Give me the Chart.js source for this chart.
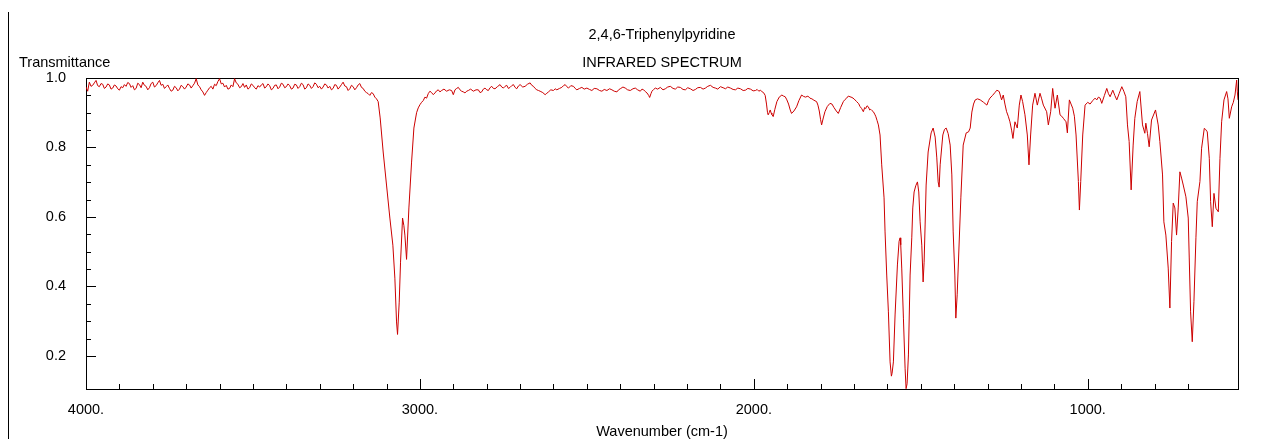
<!DOCTYPE html>
<html>
<head>
<meta charset="utf-8">
<title>2,4,6-Triphenylpyridine IR</title>
<script src="https://cdn.jsdelivr.net/npm/chart.js@4.4.1/dist/chart.umd.min.js"></script>
<style>
  body { margin: 0; background: #fff; }
  #wrap { position: relative; width: 1266px; height: 439px; }
  #edge { position: absolute; left: 8px; top: 12px; width: 1px; height: 427px; background: #000; }
</style>
</head>
<body>
<div id="wrap">
  <canvas id="ir" width="1266" height="439"></canvas>
  <div id="edge"></div>
</div>
<script>
// Labels
const chartTitle = '2,4,6-Triphenylpyridine';
const chartSubtitle = 'INFRARED SPECTRUM';
const yAxisLabel = 'Transmittance';
const xAxisLabel = 'Wavenumber (cm-1)';

// Axis ranges / tick labels
const xRange = [550, 4000];
const yRange = [0.105, 1.0];
const xLabelTicks = [4000, 3000, 2000, 1000];
const yLabelTicks = [0.2, 0.4, 0.6, 0.8, 1.0];

// Spectrum, [wavenumber cm-1, transmittance]
const baselineHigh = [
  [4000, 0.974], [3995, 0.962], [3990, 0.988], [3985, 0.976], [3980, 0.979], [3975, 0.986], [3970, 0.993],
  [3965, 0.978], [3960, 0.975], [3955, 0.984], [3950, 0.982], [3945, 0.970], [3940, 0.974], [3935, 0.983],
  [3930, 0.980], [3925, 0.968], [3920, 0.971], [3915, 0.980], [3910, 0.977], [3905, 0.969], [3900, 0.965],
  [3895, 0.975], [3890, 0.972], [3885, 0.981], [3880, 0.976], [3875, 0.987], [3870, 0.984], [3865, 0.973],
  [3860, 0.978], [3855, 0.966], [3850, 0.970], [3845, 0.985], [3840, 0.981], [3835, 0.972], [3830, 0.988],
  [3825, 0.979], [3820, 0.976], [3815, 0.966], [3810, 0.972], [3805, 0.984], [3800, 0.988], [3795, 0.974],
  [3790, 0.978], [3785, 0.986], [3780, 0.993], [3775, 0.979], [3770, 0.982], [3765, 0.970], [3760, 0.975],
  [3755, 0.980], [3750, 0.970], [3745, 0.962], [3740, 0.965], [3735, 0.976], [3730, 0.972], [3725, 0.963],
  [3720, 0.968], [3715, 0.979], [3710, 0.975], [3705, 0.968], [3700, 0.974], [3695, 0.983], [3690, 0.980],
  [3685, 0.971], [3680, 0.978], [3675, 0.985], [3670, 0.998], [3665, 0.980], [3660, 0.975], [3655, 0.966],
  [3650, 0.960], [3645, 0.950], [3640, 0.958], [3635, 0.965], [3630, 0.972], [3625, 0.976], [3620, 0.968],
  [3615, 0.982], [3610, 0.978], [3605, 0.990], [3600, 0.998], [3595, 0.983], [3590, 0.985], [3585, 0.974],
  [3580, 0.979], [3575, 0.968], [3570, 0.970], [3565, 0.980], [3560, 0.975], [3555, 0.998], [3550, 0.986],
  [3545, 0.982], [3540, 0.972], [3535, 0.975], [3530, 0.984], [3525, 0.973], [3520, 0.980], [3515, 0.968],
  [3510, 0.972], [3505, 0.983], [3500, 0.979], [3495, 0.972], [3490, 0.968], [3485, 0.978], [3480, 0.974],
  [3475, 0.980], [3470, 0.984], [3465, 0.971], [3460, 0.975], [3455, 0.983], [3450, 0.978], [3445, 0.966],
  [3440, 0.970], [3435, 0.979], [3430, 0.980], [3425, 0.969], [3420, 0.974], [3415, 0.985], [3410, 0.982],
  [3405, 0.972], [3400, 0.975], [3395, 0.983], [3390, 0.978], [3385, 0.968], [3380, 0.971], [3375, 0.982],
  [3370, 0.980], [3365, 0.970], [3360, 0.975], [3355, 0.985], [3350, 0.981], [3345, 0.968], [3340, 0.972],
  [3335, 0.983], [3330, 0.979], [3325, 0.970], [3320, 0.975], [3315, 0.986], [3310, 0.982], [3305, 0.972],
  [3300, 0.976], [3295, 0.968], [3290, 0.974], [3285, 0.983], [3280, 0.980], [3275, 0.971], [3270, 0.976],
  [3265, 0.966], [3260, 0.970], [3255, 0.981], [3250, 0.979], [3245, 0.968], [3240, 0.974], [3235, 0.981],
  [3230, 0.988], [3225, 0.977], [3220, 0.975], [3215, 0.964], [3210, 0.969], [3205, 0.979], [3200, 0.975],
  [3195, 0.966], [3190, 0.972], [3185, 0.980], [3180, 0.984], [3175, 0.973], [3170, 0.970], [3165, 0.962],
  [3160, 0.958], [3155, 0.955], [3150, 0.950], [3145, 0.958], [3140, 0.955], [3135, 0.945]
];

const chStretch = [
  [3130, 0.940], [3125, 0.932], [3119, 0.885], [3110, 0.787], [3100, 0.692], [3090, 0.597],
  [3081, 0.519], [3075, 0.424], [3070, 0.298], [3067, 0.262], [3062, 0.355], [3058, 0.470],
  [3052, 0.597], [3048, 0.575], [3045, 0.548], [3040, 0.478], [3033, 0.626], [3025, 0.758],
  [3018, 0.856], [3010, 0.900], [3005, 0.914], [3000, 0.923], [2995, 0.930], [2990, 0.935],
  [2985, 0.945], [2980, 0.942], [2975, 0.955]
];

const baselineMid = [
  [2970, 0.962], [2965, 0.958], [2960, 0.952], [2955, 0.957], [2950, 0.963], [2945, 0.966], [2940, 0.960],
  [2935, 0.964], [2928, 0.968], [2920, 0.962], [2912, 0.966], [2905, 0.964], [2900, 0.952], [2895, 0.966],
  [2890, 0.970], [2885, 0.973], [2880, 0.966], [2875, 0.962], [2870, 0.960], [2865, 0.957], [2860, 0.962],
  [2855, 0.964], [2848, 0.968], [2840, 0.962], [2832, 0.966], [2825, 0.966], [2820, 0.958], [2815, 0.960],
  [2810, 0.968], [2805, 0.971], [2800, 0.966], [2795, 0.964], [2790, 0.972], [2785, 0.976], [2780, 0.970],
  [2775, 0.969], [2768, 0.975], [2760, 0.981], [2755, 0.974], [2750, 0.971], [2745, 0.976], [2740, 0.979],
  [2735, 0.970], [2730, 0.973], [2725, 0.978], [2720, 0.981], [2715, 0.973], [2710, 0.969], [2705, 0.977],
  [2700, 0.981], [2692, 0.974], [2685, 0.976], [2678, 0.982], [2670, 0.986], [2665, 0.979], [2660, 0.976],
  [2655, 0.970], [2650, 0.966], [2645, 0.964], [2640, 0.962], [2632, 0.958], [2625, 0.952], [2620, 0.956],
  [2615, 0.960], [2608, 0.966], [2600, 0.964], [2595, 0.969], [2590, 0.966], [2582, 0.970], [2575, 0.973],
  [2570, 0.978], [2565, 0.981], [2560, 0.975], [2555, 0.971], [2548, 0.978], [2540, 0.976], [2535, 0.970],
  [2530, 0.966], [2522, 0.970], [2515, 0.973], [2508, 0.968], [2500, 0.971], [2492, 0.967], [2485, 0.964],
  [2478, 0.970], [2470, 0.969], [2462, 0.964], [2455, 0.962], [2448, 0.967], [2440, 0.964], [2432, 0.969],
  [2425, 0.966], [2418, 0.962], [2410, 0.960], [2405, 0.966], [2400, 0.969], [2392, 0.974], [2385, 0.971],
  [2378, 0.966], [2370, 0.964], [2362, 0.969], [2355, 0.971], [2348, 0.966], [2340, 0.962], [2335, 0.968],
  [2330, 0.966], [2325, 0.961], [2320, 0.957], [2315, 0.950], [2312, 0.944], [2308, 0.955], [2305, 0.962],
  [2300, 0.967], [2295, 0.971], [2288, 0.968], [2280, 0.973], [2272, 0.966], [2265, 0.969], [2258, 0.974],
  [2250, 0.976], [2242, 0.970], [2235, 0.968], [2228, 0.974], [2220, 0.973], [2212, 0.967], [2205, 0.966],
  [2198, 0.972], [2190, 0.969], [2182, 0.964], [2175, 0.967], [2168, 0.972], [2160, 0.973], [2152, 0.968],
  [2145, 0.971], [2138, 0.976], [2130, 0.979], [2122, 0.973], [2115, 0.971], [2108, 0.968], [2100, 0.975],
  [2092, 0.972], [2085, 0.969], [2078, 0.974], [2070, 0.971], [2062, 0.967], [2055, 0.966], [2048, 0.971],
  [2040, 0.969], [2032, 0.964], [2025, 0.965], [2018, 0.970], [2010, 0.968], [2002, 0.963], [1995, 0.964],
  [1990, 0.967], [1985, 0.962], [1980, 0.965], [1975, 0.960]
];

const overtones = [
  [1971, 0.958], [1966, 0.950], [1962, 0.925], [1959, 0.900], [1957, 0.894], [1954, 0.900],
  [1951, 0.908], [1948, 0.899], [1946, 0.895], [1942, 0.889], [1937, 0.910], [1931, 0.932],
  [1924, 0.945], [1916, 0.951], [1911, 0.948], [1906, 0.946], [1901, 0.937], [1896, 0.925],
  [1891, 0.908], [1887, 0.898], [1880, 0.905], [1872, 0.917], [1865, 0.935], [1857, 0.951],
  [1851, 0.947], [1845, 0.945], [1838, 0.948], [1832, 0.942], [1826, 0.940], [1820, 0.936],
  [1812, 0.932], [1808, 0.922], [1804, 0.905], [1800, 0.880], [1797, 0.865], [1792, 0.885],
  [1787, 0.903], [1780, 0.918], [1772, 0.927], [1766, 0.925], [1760, 0.915], [1753, 0.905],
  [1747, 0.898], [1740, 0.915], [1732, 0.932], [1727, 0.938], [1722, 0.942], [1717, 0.948],
  [1712, 0.946], [1706, 0.944], [1700, 0.940], [1692, 0.932], [1686, 0.926], [1682, 0.918],
  [1677, 0.912], [1672, 0.903], [1668, 0.915], [1665, 0.912], [1661, 0.920], [1657, 0.917],
  [1653, 0.908], [1650, 0.910], [1646, 0.906], [1642, 0.903], [1638, 0.896], [1635, 0.890],
  [1631, 0.878], [1627, 0.865], [1622, 0.836]
];

const ringModes = [
  [1617, 0.750], [1610, 0.655], [1607, 0.557], [1602, 0.433], [1597, 0.327], [1592, 0.183],
  [1588, 0.142], [1586, 0.150], [1582, 0.183], [1577, 0.318], [1570, 0.462], [1565, 0.530],
  [1562, 0.540], [1560, 0.520], [1557, 0.453], [1552, 0.309], [1547, 0.165], [1544, 0.106],
  [1541, 0.120], [1537, 0.203], [1532, 0.433], [1527, 0.540], [1524, 0.626], [1520, 0.672],
  [1515, 0.690], [1510, 0.701], [1506, 0.672], [1502, 0.586], [1497, 0.519], [1493, 0.413],
  [1490, 0.470], [1487, 0.577], [1484, 0.692], [1478, 0.787], [1469, 0.842], [1463, 0.856],
  [1457, 0.830], [1452, 0.770], [1448, 0.701], [1445, 0.686], [1442, 0.750], [1434, 0.836],
  [1429, 0.852], [1424, 0.856], [1418, 0.840], [1412, 0.807], [1407, 0.721], [1403, 0.557],
  [1398, 0.433], [1395, 0.309], [1391, 0.376], [1385, 0.528], [1380, 0.655], [1373, 0.807],
  [1364, 0.842], [1357, 0.845], [1352, 0.856], [1347, 0.902]
];

const fingerprint = [
  [1342, 0.925], [1337, 0.937], [1330, 0.940], [1322, 0.937], [1312, 0.930], [1302, 0.922],
  [1297, 0.935], [1293, 0.942], [1285, 0.950], [1278, 0.958], [1272, 0.965], [1265, 0.961],
  [1258, 0.937], [1253, 0.951], [1248, 0.925], [1243, 0.903], [1238, 0.890], [1233, 0.874],
  [1228, 0.850], [1224, 0.826], [1218, 0.874], [1211, 0.856], [1205, 0.922], [1200, 0.951],
  [1195, 0.932], [1188, 0.894], [1181, 0.836], [1176, 0.750], [1171, 0.836], [1165, 0.922],
  [1158, 0.956], [1151, 0.922], [1143, 0.956], [1138, 0.940], [1133, 0.922], [1123, 0.903],
  [1118, 0.865], [1111, 0.903], [1105, 0.970], [1098, 0.913], [1091, 0.951], [1083, 0.894],
  [1078, 0.890], [1073, 0.884], [1065, 0.874], [1061, 0.842], [1055, 0.937], [1050, 0.925],
  [1045, 0.913], [1040, 0.890], [1035, 0.836], [1028, 0.702], [1025, 0.620], [1021, 0.702],
  [1015, 0.836], [1008, 0.922], [1000, 0.930], [993, 0.925], [985, 0.935], [978, 0.942],
  [973, 0.937], [968, 0.945], [963, 0.942], [958, 0.927], [950, 0.950], [943, 0.970],
  [938, 0.955], [933, 0.946], [925, 0.965], [919, 0.950], [913, 0.937], [906, 0.955],
  [898, 0.975], [892, 0.962], [886, 0.946], [881, 0.865], [876, 0.817], [870, 0.678],
  [864, 0.807], [859, 0.884], [852, 0.932], [844, 0.961], [836, 0.865], [829, 0.841],
  [826, 0.870], [821, 0.840], [816, 0.802], [809, 0.879], [797, 0.908], [789, 0.865],
  [784, 0.817], [776, 0.721], [772, 0.586], [766, 0.548], [759, 0.453], [754, 0.338],
  [749, 0.529], [744, 0.640], [739, 0.626], [734, 0.548], [729, 0.626], [724, 0.730],
  [719, 0.712], [714, 0.692], [706, 0.658], [699, 0.597], [696, 0.482], [692, 0.327],
  [687, 0.241], [682, 0.356], [676, 0.540], [672, 0.644], [664, 0.702], [659, 0.798],
  [651, 0.855], [647, 0.852], [642, 0.845], [636, 0.769], [632, 0.644], [627, 0.572],
  [622, 0.668], [616, 0.625], [609, 0.615], [604, 0.769], [599, 0.874], [592, 0.937],
  [584, 0.961], [580, 0.940], [576, 0.884], [569, 0.917], [564, 0.930], [559, 0.951],
  [554, 0.994], [552, 0.960], [550, 0.937]
];

const spectrum = [].concat(baselineHigh, chStretch, baselineMid, overtones, ringModes, fingerprint)
  .map(([w, t]) => ({x: w, y: t}));

const FONT = '"Liberation Sans", Arial, sans-serif';
const FONT_SIZE = 14.5;

const isStep = (v, step) => Math.abs(v / step - Math.round(v / step)) < 1e-6;

// Frame box + inward tick marks + free-standing labels
const spectrumFrame = {
  id: 'spectrumFrame',
  beforeDatasetsDraw(chart) {
    const {ctx, chartArea: a, scales: {x, y}} = chart;
    ctx.save();
    ctx.strokeStyle = '#000';
    ctx.lineWidth = 1;
    ctx.strokeRect(a.left + 0.5, a.top + 0.5, a.right - a.left, a.bottom - a.top);
    ctx.beginPath();
    x.ticks.forEach(t => {
      if (!isStep(t.value, 100)) return;
      const px = Math.round(x.getPixelForValue(t.value)) + 0.5;
      const len = isStep(t.value, 1000) ? 10 : 5;
      ctx.moveTo(px, a.bottom);
      ctx.lineTo(px, a.bottom - len);
    });
    y.ticks.forEach(t => {
      if (!isStep(t.value, 0.05)) return;
      const py = Math.round(y.getPixelForValue(t.value)) + 0.5;
      const len = isStep(t.value, 0.2) ? 10 : 5;
      ctx.moveTo(a.left, py);
      ctx.lineTo(a.left + len, py);
    });
    ctx.stroke();
    ctx.restore();
  },
  afterDraw(chart) {
    const {ctx, chartArea: a} = chart;
    const cx = (a.left + a.right) / 2;
    ctx.save();
    ctx.fillStyle = '#000';
    ctx.font = FONT_SIZE + 'px ' + FONT;
    ctx.textBaseline = 'middle';
    ctx.textAlign = 'center';
    ctx.fillText(chartTitle, cx, 35);
    ctx.fillText(chartSubtitle, cx, 63);
    ctx.fillText(xAxisLabel, cx, 432);
    ctx.textAlign = 'left';
    ctx.fillText(yAxisLabel, 19, 63);
    ctx.restore();
  }
};

new Chart(document.getElementById('ir'), {
  type: 'line',
  data: {
    datasets: [{
      data: spectrum,
      borderColor: '#cc0000',
      borderWidth: 1,
      pointRadius: 0,
      tension: 0,
      fill: false
    }]
  },
  options: {
    responsive: false,
    animation: false,
    devicePixelRatio: 1,
    layout: {padding: {top: 78, right: 28, left: 0, bottom: 0}},
    plugins: {legend: {display: false}, tooltip: {enabled: false}},
    scales: {
      x: {
        type: 'linear',
        reverse: true,
        min: xRange[0],
        max: xRange[1],
        afterFit(scale) { scale.height = 50; },
        grid: {display: false, drawTicks: false},
        border: {display: false},
        ticks: {
          stepSize: 100,
          maxTicksLimit: 100,
          autoSkip: false,
          maxRotation: 0,
          padding: 12,
          color: '#000',
          font: {family: FONT, size: FONT_SIZE},
          callback: v => xLabelTicks.includes(v) ? v + '.' : ''
        }
      },
      y: {
        type: 'linear',
        min: yRange[0],
        max: yRange[1],
        afterFit(scale) { scale.width = 86; },
        grid: {display: false, drawTicks: false},
        border: {display: false},
        ticks: {
          stepSize: 0.05,
          maxTicksLimit: 100,
          autoSkip: false,
          padding: 20,
          color: '#000',
          font: {family: FONT, size: FONT_SIZE},
          callback: v => yLabelTicks.some(t => Math.abs(t - v) < 1e-6) ? v.toFixed(1) : ''
        }
      }
    }
  },
  plugins: [spectrumFrame]
});
</script>
</body>
</html>
